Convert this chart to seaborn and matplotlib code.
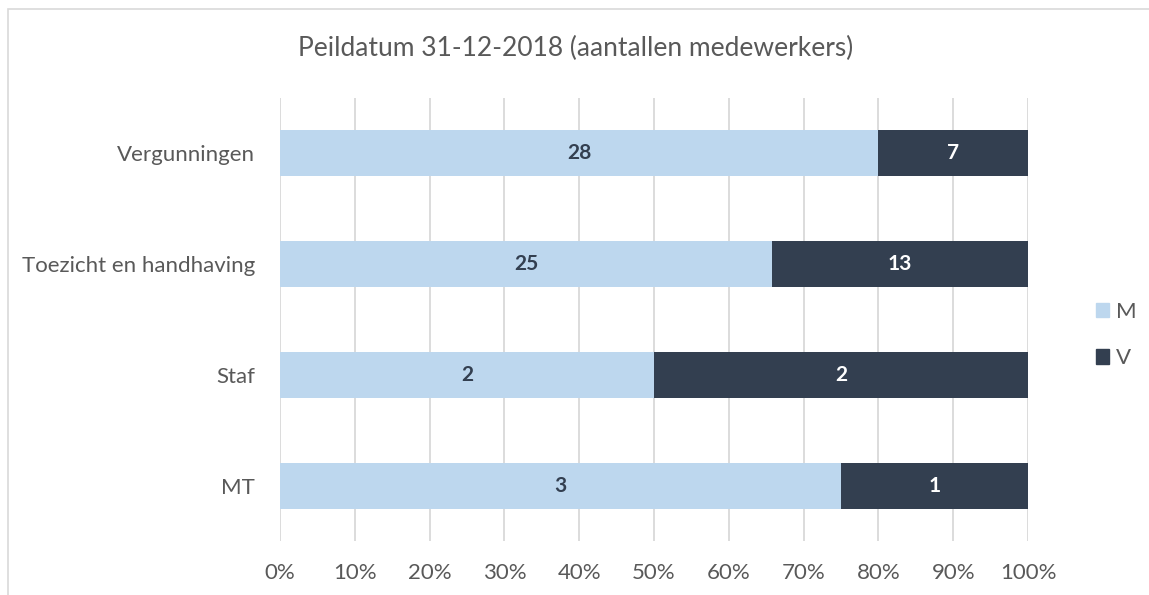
import matplotlib
matplotlib.use("Agg")
import matplotlib.pyplot as plt
import numpy as np
import pandas as pd
import seaborn as sns
from matplotlib.patches import Rectangle

# Data
categories = ["Vergunningen", "Toezicht en handhaving", "Staf", "MT"]
m_counts = [28, 25, 2, 3]
v_counts = [7, 13, 2, 1]
x_ticks = list(range(0, 101, 10))

LIGHT = "#BDD7EE"
DARK = "#333F50"
GREY_TEXT = "#595959"

df = pd.DataFrame({"cat": categories, "M": m_counts, "V": v_counts})
df["total"] = df["M"] + df["V"]
df["M_pct"] = df["M"] / df["total"] * 100
df["all_pct"] = 100.0

sns.set_theme(style="white")
plt.rcParams["font.family"] = ["Lato", "DejaVu Sans"]

fig = plt.figure(figsize=(11.49, 5.95), dpi=100)
ax = fig.add_axes([280 / 1149, 1 - 541 / 595, (1028 - 280) / 1149, (541 - 98) / 595])

# Stacked 100% bars: full bar in V colour, M share drawn on top
sns.barplot(data=df, y="cat", x="all_pct", color=DARK, width=0.415, ax=ax,
            saturation=1, linewidth=0, orient="h")
sns.barplot(data=df, y="cat", x="M_pct", color=LIGHT, width=0.415, ax=ax,
            saturation=1, linewidth=0, orient="h")

for i, row in df.iterrows():
    ax.text(row["M_pct"] / 2, i, str(row["M"]), ha="center", va="center",
            fontsize=15, fontweight="bold", color=DARK)
    ax.text((row["M_pct"] + 100) / 2, i, str(row["V"]), ha="center", va="center",
            fontsize=15, fontweight="bold", color="white")

ax.set_xlim(0, 100)
ax.set_ylim(3.5, -0.5)
ax.set_xticks(x_ticks)
ax.set_xticklabels([f"{t}%" for t in x_ticks])
ax.set_xlabel("")
ax.set_ylabel("")
ax.grid(axis="x", color="#D9D9D9", linewidth=1.3)
ax.grid(axis="y", visible=False)
ax.set_axisbelow(True)
for s in ax.spines.values():
    s.set_visible(False)
ax.tick_params(axis="both", length=0, labelsize=16, colors=GREY_TEXT)
ax.tick_params(axis="y", pad=18)
ax.tick_params(axis="x", pad=16)

fig.text(576 / 1149, 1 - 48 / 595, "Peildatum 31-12-2018 (aantallen medewerkers)",
         ha="center", va="center", fontsize=19, color=GREY_TEXT)

# Legend
handles = [Rectangle((0, 0), 1, 1, color=LIGHT), Rectangle((0, 0), 1, 1, color=DARK)]
fig.legend(handles, ["M", "V"], loc="center left", bbox_to_anchor=(1076 / 1149, 1 - 335 / 595),
           frameon=False, fontsize=16, labelcolor=GREY_TEXT, handlelength=0.6,
           handleheight=0.6, handletextpad=0.3, labelspacing=1.2)

# Chart border
fig.patches.append(Rectangle((8 / 1149, -0.1), 1.2, 1 - 9 / 595 + 0.1, transform=fig.transFigure,
                             fill=False, edgecolor="#D9D9D9", linewidth=1.2))

fig.savefig("out.png", dpi=100)
